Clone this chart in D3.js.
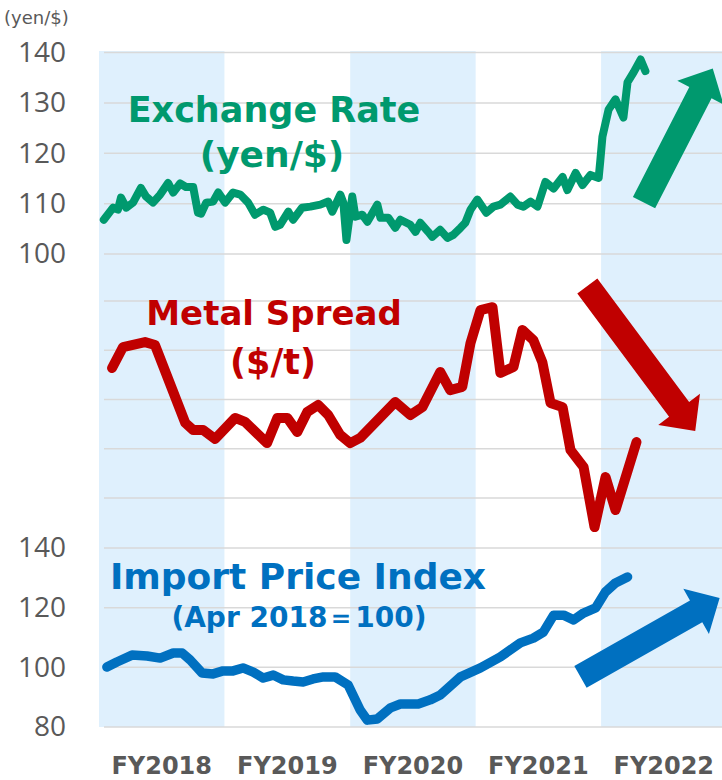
<!DOCTYPE html>
<html>
<head>
<meta charset="utf-8">
<script src="https://cdnjs.cloudflare.com/ajax/libs/d3/7.8.5/d3.min.js"></script>
<style>
body{margin:0;background:#fff;}
svg{display:block;}
</style>
</head>
<body>
<div id="chart"></div>
<script>
// fiscal year bands and labels
var fiscalYears = ['FY2018', 'FY2019', 'FY2020', 'FY2021', 'FY2022'];
var fyStarts = ['2018-04-01', '2019-04-01', '2020-04-01', '2021-04-01', '2022-04-01', '2023-04-01'];

var exTicks = [100, 110, 120, 130, 140];
var metalTicks = [200, 400, 600, 800, 1000];
var importTicks = [80, 100, 120, 140];

// yen per dollar
var exDates = ['2018-04-15','2018-05-12','2018-05-26','2018-06-04','2018-06-19','2018-07-09','2018-08-01','2018-08-16','2018-09-05','2018-09-26','2018-10-19','2018-11-03','2018-11-23','2018-12-10','2018-12-31',
    '2019-01-14','2019-01-23','2019-02-07','2019-02-27','2019-03-14','2019-04-03','2019-04-26','2019-05-17','2019-06-09','2019-06-29','2019-07-23','2019-08-12','2019-08-27','2019-09-10','2019-10-04','2019-10-18','2019-11-13','2019-12-07',
    '2020-01-05','2020-01-28','2020-02-09','2020-03-03','2020-03-12','2020-03-21','2020-04-07','2020-04-16','2020-05-06','2020-05-21','2020-06-19','2020-06-28','2020-07-21','2020-08-10','2020-08-25','2020-09-23','2020-10-08','2020-10-22','2020-11-14','2020-11-26','2020-12-19',
    '2021-01-09','2021-01-26','2021-02-16','2021-03-02','2021-03-17','2021-04-06','2021-05-02','2021-05-23','2021-06-12','2021-07-11','2021-08-01','2021-08-18','2021-09-08','2021-09-28','2021-10-21','2021-11-14','2021-12-10','2021-12-24',
    '2022-01-17','2022-02-06','2022-03-01','2022-03-25','2022-03-30','2022-04-05','2022-04-23','2022-05-13','2022-06-05','2022-06-17','2022-07-05','2022-07-25','2022-08-08'];
var exValues = [106.8,109.2,108.8,111.2,109.2,110.2,113.1,111.4,110.2,111.8,114.1,112.2,114.0,113.3,113.3,
    108.2,108.0,110.2,110.4,112.2,110.2,112.2,111.8,110.2,107.8,108.8,108.2,105.4,105.8,108.4,106.8,109.2,109.4,
    109.8,110.4,108.4,111.8,110.2,102.8,111.4,107.4,107.8,106.4,109.8,107.2,107.2,105.2,106.8,105.8,104.4,106.2,104.4,103.4,104.8,
    103.2,103.8,105.2,106.2,108.8,110.8,108.2,109.4,109.8,111.4,109.8,109.4,110.4,109.4,114.3,113.0,115.3,112.7,
    116.1,113.7,115.7,115.1,118.7,123.3,128.7,130.7,127.1,134.1,136.1,138.6,136.3];

// metal spread ($/t)
var metalDates = ['2018-05-09','2018-06-10','2018-08-13','2018-09-11','2018-12-08','2018-12-31',
    '2019-01-29','2019-03-05','2019-05-02','2019-05-31','2019-08-03','2019-09-02','2019-10-01','2019-10-30','2019-11-28','2019-12-30',
    '2020-01-28','2020-03-03','2020-04-01','2020-04-30','2020-08-10','2020-09-23','2020-10-28','2020-12-19',
    '2021-01-17','2021-02-21','2021-03-17','2021-04-15','2021-05-20','2021-06-12','2021-07-20','2021-08-15','2021-09-16','2021-10-12','2021-11-05','2021-12-10',
    '2022-01-02','2022-02-09','2022-03-13','2022-04-14','2022-05-13','2022-07-13'];
var metalValues = [728,813,833,821,505,476,
    476,440,525,509,423,525,525,468,549,578,
    537,456,423,444,590,537,569,712,
    638,651,829,963,975,708,732,882,841,752,586,569,
    395,326,82,285,151,427];

// import price index (Apr 2018 = 100)
var importDates = ['2018-04-24','2018-05-23','2018-07-06','2018-08-19','2018-09-26','2018-11-03','2018-11-29','2018-12-22',
    '2019-01-26','2019-02-27','2019-03-28','2019-04-26','2019-05-25','2019-06-24','2019-07-23','2019-08-21','2019-09-19','2019-10-18','2019-11-16','2019-12-15',
    '2020-01-14','2020-02-17','2020-03-26','2020-04-30','2020-05-21','2020-06-19','2020-07-27','2020-08-25','2020-10-16','2020-11-20','2020-12-19',
    '2021-02-16','2021-04-15','2021-06-12','2021-08-09','2021-09-16','2021-10-15','2021-11-14','2021-12-13',
    '2022-01-11','2022-02-09','2022-03-16','2022-04-14','2022-05-13','2022-06-17'];
var importValues = [100.1,101.8,104.1,103.8,103.1,104.8,104.8,102.5,
    98.1,97.8,98.8,98.8,99.8,98.4,96.4,97.4,95.8,95.4,95.1,96.1,
    96.8,96.8,94.1,85.7,82.3,82.7,86.4,87.7,87.7,89.1,90.7,
    96.8,99.8,103.5,108.2,109.8,111.8,117.5,117.5,
    115.9,118.2,119.9,125.3,128.3,130.3];

// trend arrows, tail -> tip in each panel's units
var arrowSpecs = [
    {panel: 'ex', from: ['2022-08-04', 110.2], to: ['2023-02-20', 136.8], color: '#00996e'},
    {panel: 'metal', from: ['2022-02-20', 1061], to: ['2022-12-31', 472], color: '#c00000'},
    {panel: 'import', from: ['2022-01-31', 96.8], to: ['2023-03-12', 123.2], color: '#0070c0'}
];

var width = 722, height = 780;
var parse = d3.timeParse('%Y-%m-%d');

var x = d3.scaleTime()
    .domain([parse(fyStarts[0]), parse(fyStarts[fyStarts.length - 1])])
    .range([99, 726.5]);

var yEx = d3.scaleLinear().domain([100, 140]).range([254, 52.5]);
var yMetal = d3.scaleLinear().domain([200, 1000]).range([498, 301]);
var yImport = d3.scaleLinear().domain([80, 140]).range([727, 548]);
var scales = {ex: yEx, metal: yMetal, import: yImport};

var svg = d3.select('#chart').append('svg')
    .attr('width', width)
    .attr('height', height);

// shaded fiscal years
svg.append('g').selectAll('rect').data(fiscalYears)
    .enter()
        .append('rect')
        .attr('x', function(d, i){return x(parse(fyStarts[i]))})
        .attr('y', 51)
        .attr('width', function(d, i){return x(parse(fyStarts[i + 1])) - x(parse(fyStarts[i]))})
        .attr('height', 676)
        .attr('fill', function(d, i){return i % 2 == 0 ? '#dff0fd' : 'none'});

// gridlines
var grid = svg.append('g').attr('stroke', '#d9d9d9').attr('stroke-width', 1.5);
function drawGrid(scale, ticks){
    grid.selectAll(null).data(ticks)
        .enter()
            .append('line')
            .attr('x1', 104)
            .attr('x2', width)
            .attr('y1', function(d){return scale(d)})
            .attr('y2', function(d){return scale(d)});
}
drawGrid(yEx, exTicks);
drawGrid(yMetal, metalTicks);
drawGrid(yImport, importTicks);

// left axes (labels only)
function drawAxis(scale, ticks){
    var g = svg.append('g')
        .attr('transform', 'translate(66,0)')
        .call(d3.axisLeft(scale).tickValues(ticks).tickSize(0).tickPadding(0));
    g.select('.domain').remove();
    g.selectAll('text')
        .attr('fill', '#595959')
        .style('font-family', '"Open Sans", sans-serif')
        .style('font-size', '28px');
}
drawAxis(yEx, exTicks);
drawAxis(yImport, importTicks);

svg.append('text')
    .attr('x', 4)
    .attr('y', 24)
    .attr('fill', '#595959')
    .style('font-family', '"DejaVu Sans", sans-serif')
    .style('font-size', '18px')
    .text('(yen/$)');

// x labels
svg.append('g').selectAll('text').data(fiscalYears)
    .enter()
        .append('text')
        .attr('x', function(d, i){return (x(parse(fyStarts[i])) + x(parse(fyStarts[i + 1]))) / 2})
        .attr('y', 774)
        .attr('text-anchor', 'middle')
        .attr('fill', '#595959')
        .style('font-family', '"DejaVu Sans", sans-serif')
        .style('font-weight', 'bold')
        .style('font-size', '24px')
        .text(function(d){return d});

// series lines
function drawLine(dates, values, scale, color, w){
    var pts = dates.map(function(d, i){return [parse(d), values[i]]});
    var line = d3.line()
        .x(function(d){return x(d[0])})
        .y(function(d){return scale(d[1])});
    svg.append('path')
        .datum(pts)
        .attr('d', line)
        .attr('fill', 'none')
        .attr('stroke', color)
        .attr('stroke-width', w)
        .attr('stroke-linejoin', 'round')
        .attr('stroke-linecap', 'round');
}
drawLine(exDates, exValues, yEx, '#00996e', 8);
drawLine(metalDates, metalValues, yMetal, '#c00000', 10);
drawLine(importDates, importValues, yImport, '#0070c0', 9.5);

// block arrows
function arrowPath(p0, p1, shaft, head, headLen){
    var dx = p1[0] - p0[0], dy = p1[1] - p0[1];
    var len = Math.sqrt(dx * dx + dy * dy);
    var ux = dx / len, uy = dy / len;
    var nx = -uy, ny = ux;
    var bx = p1[0] - ux * headLen, by = p1[1] - uy * headLen;
    var pts = [
        [p0[0] + nx * shaft / 2, p0[1] + ny * shaft / 2],
        [bx + nx * shaft / 2, by + ny * shaft / 2],
        [bx + nx * head / 2, by + ny * head / 2],
        p1,
        [bx - nx * head / 2, by - ny * head / 2],
        [bx - nx * shaft / 2, by - ny * shaft / 2],
        [p0[0] - nx * shaft / 2, p0[1] - ny * shaft / 2]
    ];
    return 'M' + pts.map(function(p){return p.join(',')}).join('L') + 'Z';
}
svg.append('g').selectAll('path').data(arrowSpecs)
    .enter()
        .append('path')
        .attr('d', function(d){
            var s = scales[d.panel];
            return arrowPath([x(parse(d.from[0])), s(d.from[1])], [x(parse(d.to[0])), s(d.to[1])], 25, 52, 27);
        })
        .attr('fill', function(d){return d.color});

// series titles
var titles = [
    {lines: ['Exchange Rate', '(yen/$)'], x: [274, 272], y: [122, 167], size: [35, 36], color: '#00996e'},
    {lines: ['Metal Spread', '($/t)'], x: [274, 273], y: [325, 374], size: [34, 35], color: '#c00000'},
    {lines: ['Import Price Index', '(Apr 2018\uff1d100)'], x: [298, 299], y: [589, 627], size: [36, 28], color: '#0070c0'}
];
titles.forEach(function(t){
    t.lines.forEach(function(s, i){
        svg.append('text')
            .attr('x', t.x[i])
            .attr('y', t.y[i])
            .attr('text-anchor', 'middle')
            .attr('fill', t.color)
            .style('font-family', '"DejaVu Sans", sans-serif')
            .style('font-weight', 'bold')
            .style('font-size', t.size[i] + 'px')
            .text(s);
    });
});
</script>
</body>
</html>
